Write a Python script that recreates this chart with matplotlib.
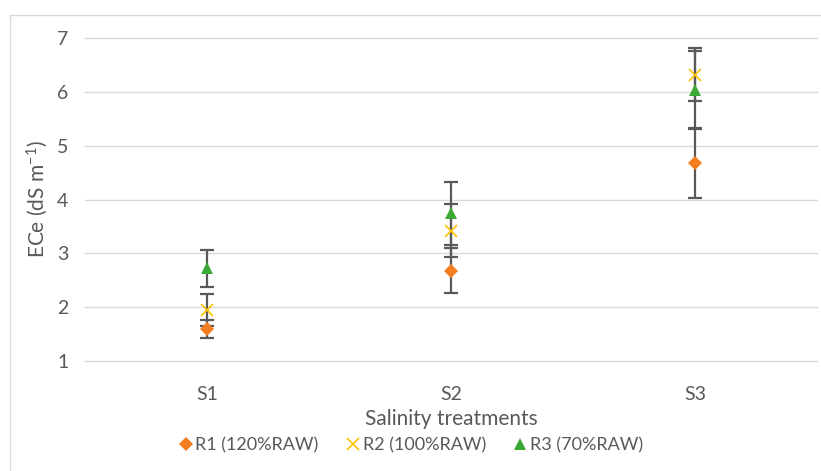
import matplotlib.pyplot as plt
import numpy as np
from matplotlib.patches import Rectangle

treatments = ['S1', 'S2', 'S3']
series = ['R1 (120%RAW)', 'R2 (100%RAW)', 'R3 (70%RAW)']
r1_vals = [1.59, 2.68, 4.67]
r1_err = [0.17, 0.42, 0.64]
r2_vals = [1.95, 3.42, 6.32]
r2_err = [0.30, 0.49, 0.49]
r3_vals = [2.72, 3.74, 6.04]
r3_err = [0.34, 0.58, 0.72]

plt.rcParams['font.family'] = ['Lato', 'DejaVu Sans']
plt.rcParams['mathtext.default'] = 'regular'
txt = '#595959'

fig = plt.figure(figsize=(8.21, 4.71), dpi=100)
fig.patches.append(Rectangle((10/821, -0.1), 1.2, (1 - 15/471) + 0.1, transform=fig.transFigure,
                             fill=False, edgecolor='#D9D9D9', lw=1))
ax = fig.add_axes([85/821, 1 - 361/471, (817 - 85)/821, (361 - 38)/471])

x = np.arange(len(treatments)) + 0.5
styles = [
    (r1_vals, r1_err, 'D', '#F47D20', 7, series[0]),
    (r2_vals, r2_err, 'x', '#FFC000', 9, series[1]),
    (r3_vals, r3_err, '^', '#3AAA35', 9, series[2]),
]
for vals, err, mk, col, ms, lab in styles:
    ax.errorbar(x, vals, yerr=err, fmt='none', ecolor='#595959', elinewidth=1.6,
                capsize=5, capthick=1.6, zorder=2)
    ax.plot(x, vals, linestyle='none', marker=mk, color=col, markersize=ms,
            markeredgewidth=1.2 if mk == 'x' else 0, label=lab, zorder=3)

ax.set_xlim(0, 3)
ax.set_ylim(1, 7)
ax.set_yticks(range(1, 8))
ax.set_xticks(x)
ax.set_xticklabels(treatments)
ax.grid(axis='y', color='#D9D9D9', lw=1)
for gl in ax.get_ygridlines():
    gl.set_clip_on(False)
ax.set_axisbelow(True)
for s in ax.spines.values():
    s.set_visible(False)
ax.tick_params(length=0, colors=txt, labelsize=14)
ax.tick_params(axis='x', pad=18)
ax.tick_params(axis='y', pad=12)
ax.set_xlabel('Salinity treatments', color=txt, fontsize=15, labelpad=4)
ax.set_ylabel('ECe (dS m$^{-1}$)', color=txt, fontsize=15, labelpad=5)

leg = ax.legend(loc='upper center', bbox_to_anchor=(0.444, -0.185), ncol=3, frameon=False,
                fontsize=13, handletextpad=0.05, columnspacing=1.4, handlelength=1.0)
for t in leg.get_texts():
    t.set_color(txt)

fig.savefig('out.png', dpi=100)
